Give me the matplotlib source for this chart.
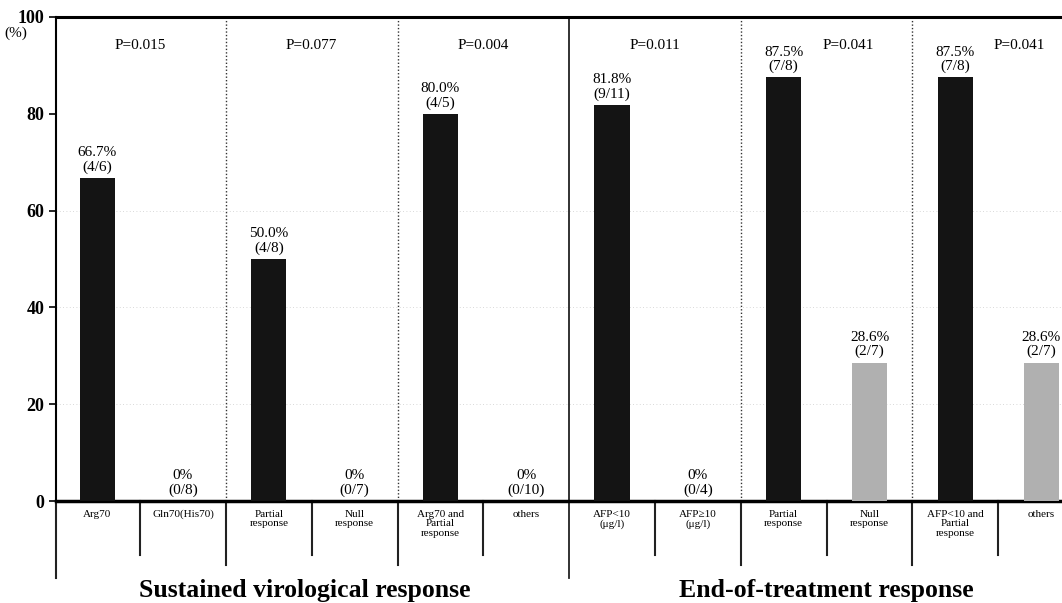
import numpy as np
import matplotlib
matplotlib.use("Agg")
import matplotlib.pyplot as plt
import matplotlib.transforms as mtrans

plt.rcParams['font.family'] = ['Liberation Serif', 'DejaVu Serif']

# data
categories = ["Arg70", "Gln70(His70)", "Partial\nresponse", "Null\nresponse",
              "Arg70 and\nPartial\nresponse", "others",
              "AFP<10\n(μg/l)", "AFP≥10\n(μg/l)", "Partial\nresponse",
              "Null\nresponse", "AFP<10 and\nPartial\nresponse", "others"]
values = [66.7, 0, 50.0, 0, 80.0, 0, 81.8, 0, 87.5, 28.6, 87.5, 28.6]
pct_text = ["66.7%", "0%", "50.0%", "0%", "80.0%", "0%",
            "81.8%", "0%", "87.5%", "28.6%", "87.5%", "28.6%"]
fractions = ["4/6", "0/8", "4/8", "0/7", "4/5", "0/10",
             "9/11", "0/4", "7/8", "2/7", "7/8", "2/7"]
p_values = ["P=0.015", "P=0.077", "P=0.004", "P=0.011", "P=0.041", "P=0.041"]
p_pos = [0.5, 2.5, 4.5, 6.5, 8.75, 10.75]
group_titles = ["Sustained virological response", "End-of-treatment response"]
gray_bars = [9, 11]

x = np.arange(len(values))
colors = ['#b0b0b0' if i in gray_bars else '#141414' for i in x]

fig = plt.figure(figsize=(10.62, 6.03), dpi=100)
ax = fig.add_axes([0.0527, 0.169, 0.96, 0.803])

ax.bar(x, values, width=0.41, color=colors, zorder=3)
ax.set_xlim(-0.48, 11.4)
ax.set_ylim(0, 100)

# faint gridlines
for yv in [20, 40, 60]:
    ax.axhline(yv, color='#cccccc', lw=0.6, ls=(0, (1, 3)), zorder=1)

for xi, v, pt, fr in zip(x, values, pct_text, fractions):
    ax.annotate(pt + "\n(" + fr + ")", (xi, v), xytext=(0, 3),
                textcoords='offset points', ha='center', va='bottom',
                fontsize=11, linespacing=1.1)

for xp, pv in zip(p_pos, p_values):
    ax.text(xp, 94, pv, ha='center', va='center', fontsize=11)

tr = mtrans.blended_transform_factory(ax.transData, ax.transAxes)

# separators inside plot (dotted), solid below the axis
for xs in [1.5, 3.5, 7.5, 9.5]:
    ax.plot([xs, xs], [0, 1], transform=tr, color='#333333', lw=1.0,
            ls=(0, (1, 1.5)), clip_on=False)
    ax.plot([xs, xs], [-0.132, 0], transform=tr, color='#222222', lw=1.5,
            clip_on=False)
ax.plot([5.5, 5.5], [-0.159, 1], transform=tr, color='#222222', lw=1.3,
        clip_on=False)
ax.plot([-0.48, -0.48], [-0.159, 0], transform=tr, color='#222222', lw=1.5,
        clip_on=False)

# short cell lines under the axis
for xs in [0.5, 2.5, 4.5, 6.5, 8.5, 10.5]:
    ax.plot([xs, xs], [-0.112, 0], transform=tr, color='#222222', lw=1.5,
            clip_on=False)

for xi, lab in zip(x, categories):
    ax.text(xi, -0.018, lab, transform=tr, ha='center', va='top',
            fontsize=8, linespacing=1.05)

ax.text(2.42, -0.184, group_titles[0], transform=tr, ha='center',
        va='center', fontsize=18.5, fontweight='bold')
ax.text(8.5, -0.184, group_titles[1], transform=tr, ha='center',
        va='center', fontsize=18.5, fontweight='bold')

ax.set_yticks([0, 20, 40, 60, 80, 100])
ax.set_yticklabels(["0", "20", "40", "60", "80", "100"], fontsize=13,
                   fontweight='bold')
ax.tick_params(axis='y', direction='out', length=5, width=1.2)
ax.set_xticks([])
ax.text(-0.039, 0.967, "(%)", transform=ax.transAxes, ha='center',
        va='center', fontsize=11)

ax.spines['right'].set_visible(False)
ax.spines['top'].set_linewidth(2.2)
ax.spines['bottom'].set_linewidth(2.5)
ax.spines['left'].set_linewidth(1.5)

fig.savefig("out.png", dpi=100)
